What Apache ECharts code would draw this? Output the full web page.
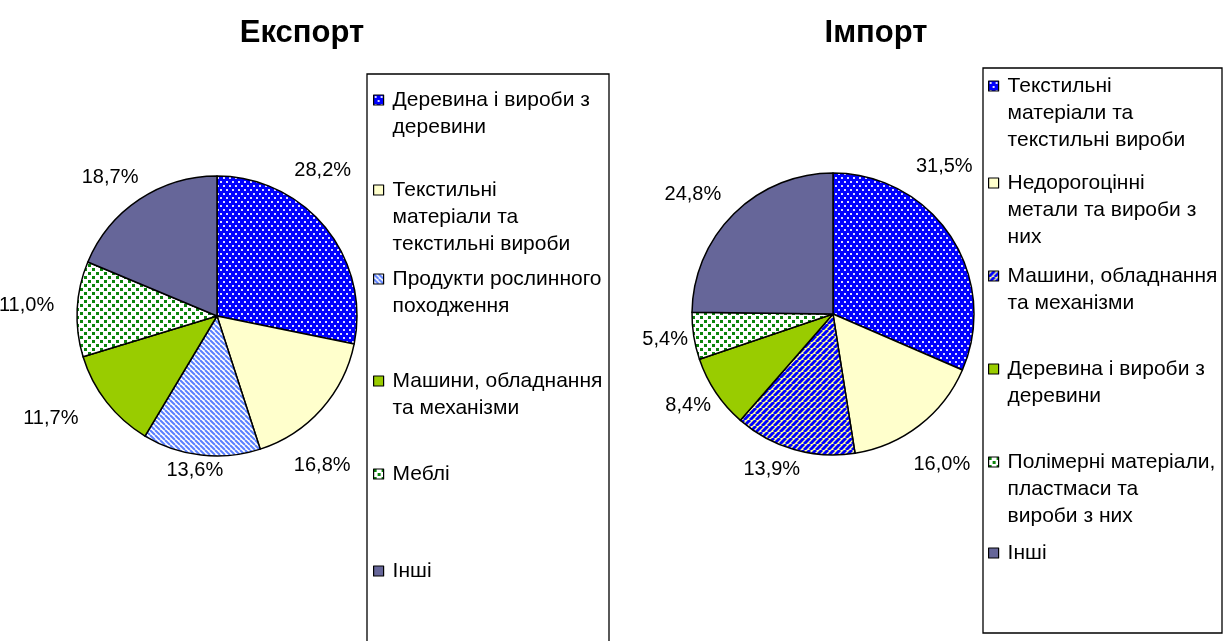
<!DOCTYPE html>
<html>
<head>
<meta charset="utf-8">
<title>Експорт / Імпорт</title>
<script src="https://cdn.jsdelivr.net/npm/echarts@6/dist/echarts.min.js"></script>
<style>
  html, body { margin: 0; padding: 0; background: #fff; }
  #main { width: 1225px; height: 641px; }
</style>
</head>
<body>
<div id="main"></div>
<script>
// Експорт
var exportNames = ['Деревина і вироби з деревини', 'Текстильні матеріали та текстильні вироби',
  'Продукти рослинного походження', 'Машини, обладнання та механізми', 'Меблі', 'Інші'];
var exportValues = [28.2, 16.8, 13.6, 11.7, 11.0, 18.7];
var exportLegend = ['Деревина і вироби з\nдеревини', 'Текстильні\nматеріали та\nтекстильні вироби',
  'Продукти рослинного\nпоходження', 'Машини, обладнання\nта механізми', 'Меблі', 'Інші'];

// Імпорт
var importNames = ['Текстильні матеріали та текстильні вироби', 'Недорогоцінні метали та вироби з них',
  'Машини, обладнання та механізми', 'Деревина і вироби з деревини',
  'Полімерні матеріали, пластмаси та вироби з них', 'Інші'];
var importValues = [31.5, 16.0, 13.9, 8.4, 5.4, 24.8];
var importLegend = ['Текстильні\nматеріали та\nтекстильні вироби', 'Недорогоцінні\nметали та вироби з\nних',
  'Машини, обладнання\nта механізми', 'Деревина і вироби з\nдеревини',
  'Полімерні матеріали,\nпластмаси та\nвироби з них', 'Інші'];

var FONT = 'Liberation Sans, Arial, sans-serif';

// fill patterns like the old excel ones
function tile(w, h, draw) {
  var c = document.createElement('canvas');
  c.width = w; c.height = h;
  draw(c.getContext('2d'));
  return { image: c, repeat: 'repeat' };
}
var blueDots = tile(6, 8, function (ctx) {
  ctx.fillStyle = '#0000ff'; ctx.fillRect(0, 0, 6, 8);
  ctx.fillStyle = '#dcdcff';
  ctx.fillRect(1, 1, 2, 2); ctx.fillRect(4, 5, 2, 2);
});
var greenDots = tile(8, 8, function (ctx) {
  ctx.fillStyle = '#ffffff'; ctx.fillRect(0, 0, 8, 8);
  ctx.fillStyle = '#0b850b';
  ctx.fillRect(0, 0, 3, 3); ctx.fillRect(4, 4, 3, 3);
});
function stripes(s, bg, fg, lw, down) {
  return tile(s, s, function (ctx) {
    ctx.fillStyle = bg; ctx.fillRect(0, 0, s, s);
    ctx.strokeStyle = fg; ctx.lineWidth = lw;
    [-s, 0, s].forEach(function (x0) {
      ctx.beginPath();
      if (down) { ctx.moveTo(x0, 0); ctx.lineTo(x0 + s, s); }
      else { ctx.moveTo(x0, s); ctx.lineTo(x0 + s, 0); }
      ctx.stroke();
    });
  });
}
var lightStripes = stripes(5, '#ffffff', '#5a80ff', 2, true);
var blueYellowStripes = stripes(6, '#ffff99', '#0000ff', 3, false);

var exportFills = [blueDots, '#ffffcc', lightStripes, '#99cc00', greenDots, '#666699'];
var importFills = [blueDots, '#ffffcc', blueYellowStripes, '#99cc00', greenDots, '#666699'];

// where the first line of every legend entry sits
var exportRows = [100, 190, 279, 381, 474, 571];
var importRows = [86, 183, 276, 369, 462, 553];
var LINE = 27;

// excel pushed some labels away from the legend box
var exportLabelShift = [[-50, -46], [-46, 44], [29, -3], [-9, 5], [0, -3], [14, -7]];
var importLabelShift = [[-55, -60], [-22, 25], [16, 3], [15, 3], [17, 1], [5, -6]];

function legends(names, texts, fills, left, rows) {
  return names.map(function (name, i) {
    var n = texts[i].split('\n').length;
    // blank lines on top so that the marker stays next to the first line
    var padded = new Array(n).join('\n') + texts[i];
    var h = (2 * n - 1) * LINE;
    return {
      data: [{ name: name, icon: 'rect', itemStyle: { color: fills[i], borderColor: '#000', borderWidth: 1.2 } }],
      left: left, top: rows[i] - h / 2,
      orient: 'vertical', padding: 0,
      itemWidth: 10, itemHeight: 10,
      selectedMode: false,
      formatter: function () { return padded; },
      textStyle: { fontFamily: FONT, fontSize: 21, lineHeight: LINE, color: '#000', padding: [0, 0, 0, 4] }
    };
  });
}

function pie(names, values, fills, center, radius, shift) {
  return {
    type: 'pie',
    center: center,
    radius: radius,
    startAngle: 90,
    clockwise: true,
    avoidLabelOverlap: false,
    itemStyle: { borderColor: '#000', borderWidth: 1.5 },
    label: {
      position: 'outside',
      fontFamily: FONT, fontSize: 20, color: '#000',
      formatter: function (p) { return p.value.toFixed(1).replace('.', ',') + '%'; }
    },
    labelLine: { show: false, length: 18, length2: 0 },
    labelLayout: function (p) {
      return { dx: shift[p.dataIndex][0], dy: shift[p.dataIndex][1] };
    },
    emphasis: { disabled: true },
    data: names.map(function (name, i) {
      return { name: name, value: values[i], itemStyle: { color: fills[i] } };
    })
  };
}

var chart = echarts.init(document.getElementById('main'), null, { renderer: 'canvas' });
chart.setOption({
  animation: false,
  backgroundColor: '#fff',
  title: [
    { text: 'Експорт', left: 297, top: 13, textAlign: 'center',
      textStyle: { fontFamily: FONT, fontSize: 31, fontWeight: 'bold', color: '#000' } },
    { text: 'Імпорт', left: 871, top: 13, textAlign: 'center',
      textStyle: { fontFamily: FONT, fontSize: 31, fontWeight: 'bold', color: '#000' } }
  ],
  graphic: [
    { type: 'rect', shape: { x: 367, y: 74, width: 242, height: 600 }, z: -1,
      style: { fill: '#fff', stroke: '#000', lineWidth: 1.3 } },
    { type: 'rect', shape: { x: 983, y: 68, width: 239, height: 565 }, z: -1,
      style: { fill: '#fff', stroke: '#000', lineWidth: 1.3 } }
  ],
  legend: legends(exportNames, exportLegend, exportFills, 373, exportRows)
    .concat(legends(importNames, importLegend, importFills, 988, importRows)),
  series: [
    pie(exportNames, exportValues, exportFills, [217, 316], 140, exportLabelShift),
    pie(importNames, importValues, importFills, [833, 314], 141, importLabelShift)
  ]
});
</script>
</body>
</html>
